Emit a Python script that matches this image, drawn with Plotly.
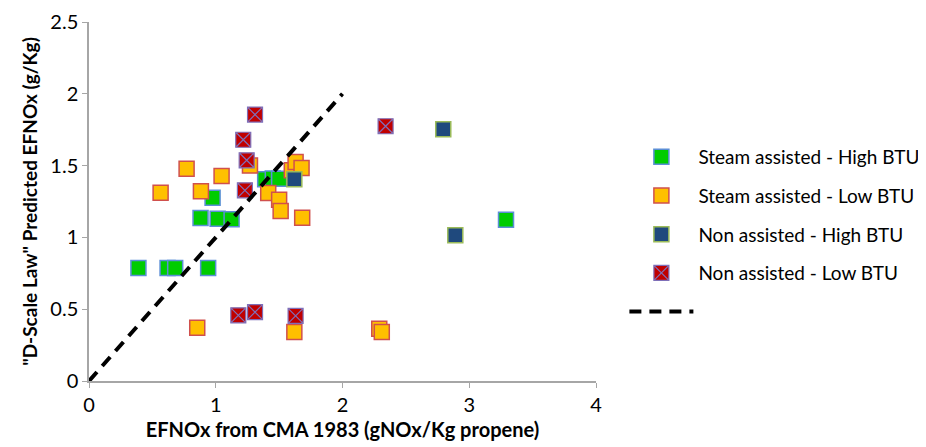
import plotly.graph_objects as go

# Steam assisted - High BTU
sh_x = [0.39, 0.62, 0.68, 0.94, 0.88, 0.975, 1.015, 1.125, 1.39, 1.45, 1.5, 3.29]
sh_y = [0.787, 0.787, 0.787, 0.787, 1.135, 1.276, 1.13, 1.126, 1.405, 1.41, 1.409, 1.123]

# Steam assisted - Low BTU
sl_x = [0.565, 0.77, 0.883, 1.046, 0.854, 1.27, 1.414, 1.50, 1.512, 1.60, 1.63, 1.677, 1.682, 1.62, 2.29, 2.31]
sl_y = [1.311, 1.478, 1.321, 1.428, 0.371, 1.50, 1.309, 1.262, 1.184, 1.467, 1.525, 1.483, 1.137, 0.341, 0.364, 0.341]

# Non assisted - High BTU
nh_x = [1.62, 2.795, 2.89]
nh_y = [1.405, 1.753, 1.015]

# Non assisted - Low BTU
nl_x = [1.31, 1.217, 1.244, 1.23, 1.178, 1.31, 1.63, 2.34]
nl_y = [1.855, 1.68, 1.537, 1.328, 0.457, 0.48, 0.453, 1.774]

# 1:1 reference line
ref_x = [0, 2]
ref_y = [0, 2]

x_ticks = [0, 1, 2, 3, 4]
y_ticks = [0, 0.5, 1, 1.5, 2, 2.5]

FONT = "Lato"

fig = go.Figure()
fig.add_trace(go.Scatter(
    x=sh_x, y=sh_y, mode="markers", name="Steam assisted - High BTU",
    legendgroup="a",
    marker=dict(symbol="square", size=15, color="#00CC00",
                line=dict(color="#5B8ED6", width=1.5))))
fig.add_trace(go.Scatter(
    x=sl_x, y=sl_y, mode="markers", name="Steam assisted - Low BTU",
    legendgroup="b",
    marker=dict(symbol="square", size=15, color="#FFC000",
                line=dict(color="#D0504D", width=1.5))))
fig.add_trace(go.Scatter(
    x=nh_x, y=nh_y, mode="markers", name="Non assisted - High BTU",
    legendgroup="c",
    marker=dict(symbol="square", size=15, color="#1F497D",
                line=dict(color="#9BBB59", width=1.5))))
fig.add_trace(go.Scatter(
    x=nl_x, y=nl_y, mode="markers", name="Non assisted - Low BTU",
    legendgroup="d",
    marker=dict(symbol="square-x", size=15, color="#C00000",
                line=dict(color="#7F6FB8", width=1.2))))
fig.add_trace(go.Scatter(
    x=ref_x, y=ref_y, mode="lines", name=" ",
    legendgroup="e",
    line=dict(color="black", width=4, dash="12px,8px")))

fig.update_layout(
    width=926, height=447,
    margin=dict(l=81, r=338, t=14, b=74, autoexpand=False),
    paper_bgcolor="white", plot_bgcolor="white",
    font=dict(family=FONT, size=19, color="black"),
    legend=dict(x=1.056, y=0.677, xanchor="left", yanchor="top",
                font=dict(size=19, family=FONT), itemwidth=64,
                tracegroupgap=11, bgcolor="rgba(0,0,0,0)"),
    xaxis=dict(range=[0, 4], tickvals=x_ticks, showgrid=False, zeroline=False,
               automargin=False, ticklabeloverflow="allow",
               showline=True, linecolor="#A6A6A6", linewidth=1.5,
               ticks="outside", ticklen=5, tickcolor="#A6A6A6",
               tickfont=dict(size=20),
               title=dict(text="<b>EFNOx from CMA 1983 (gNOx/Kg propene)</b>",
                          font=dict(size=20), standoff=8)),
    yaxis=dict(range=[0, 2.5], tickvals=y_ticks, showgrid=False, zeroline=False,
               automargin=False, ticklabeloverflow="allow",
               showline=True, linecolor="#A6A6A6", linewidth=1.5,
               ticks="outside", ticklen=5, tickcolor="#A6A6A6",
               tickfont=dict(size=20),
               title=dict(text="<b>\"D-Scale Law\" Predicted EFNOx (g/Kg)</b>",
                          font=dict(size=19), standoff=8)),
)
fig.write_html("out.html")
